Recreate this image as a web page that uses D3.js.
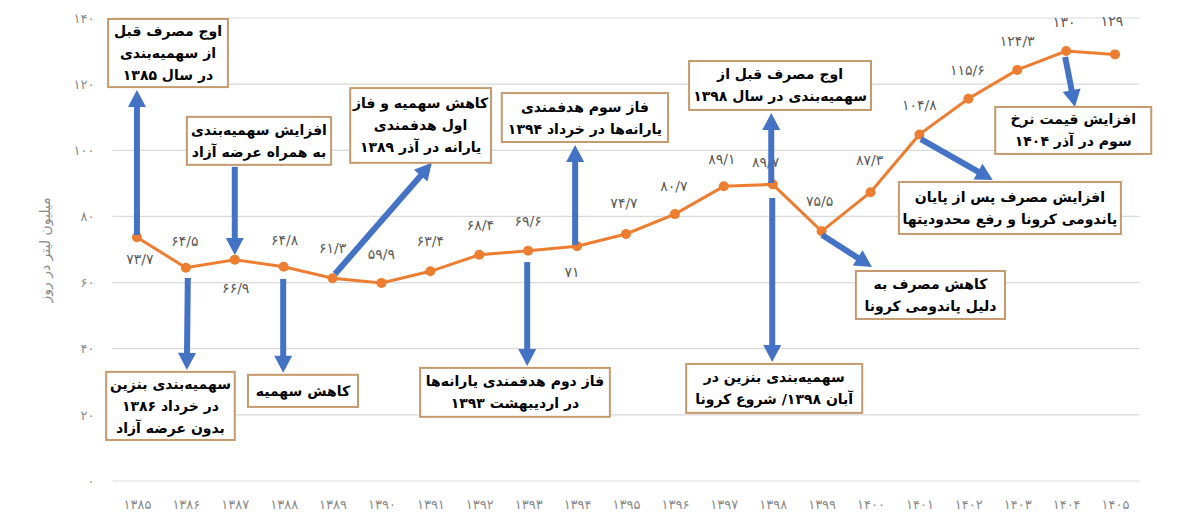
<!DOCTYPE html>
<html>
<head>
<meta charset="utf-8">
<script src="https://cdn.jsdelivr.net/npm/d3@7"></script>
<style>
  body { margin: 0; background: #fff; }
  svg { display: block; }
  .note {
    box-sizing: border-box;
    width: 100%;
    height: 100%;
    display: flex;
    align-items: center;
    justify-content: center;
    text-align: center;
    direction: rtl;
    font-family: 'DejaVu Sans', sans-serif;
    font-weight: bold;
    font-size: 14px;
    line-height: 22px;
    color: #000;
    white-space: nowrap;
  }
</style>
</head>
<body>
<div id="chart"></div>
<script>
// Years (solar hijri) and daily gasoline consumption, million litres per day
const years = [1385, 1386, 1387, 1388, 1389, 1390, 1391, 1392, 1393, 1394, 1395,
               1396, 1397, 1398, 1399, 1400, 1401, 1402, 1403, 1404, 1405];
const consumption = [73.7, 64.5, 66.9, 64.8, 61.3, 59.9, 63.4, 68.4, 69.6, 71, 74.7,
                     80.7, 89.1, 89.7, 75.5, 87.3, 104.8, 115.6, 124.3, 130, 129];
const yTicks = [0, 20, 40, 60, 80, 100, 120, 140];
const yTitle = "میلیون لیتر در روز";

// Event notes (text lines)
const noteTexts = [
    ["اوج مصرف قبل", "از سهمیه‌بندی", "در سال ۱۳۸۵"],
    ["افزایش سهمیه‌بندی", "به همراه عرضه آزاد"],
    ["کاهش سهمیه و فاز", "اول هدفمندی", "یارانه در آذر ۱۳۸۹"],
    ["فاز سوم هدفمندی", "یارانه‌ها در خرداد ۱۳۹۴"],
    ["اوج مصرف قبل از", "سهمیه‌بندی در سال ۱۳۹۸"],
    ["افزایش قیمت نرخ", "سوم در آذر ۱۴۰۴"],
    ["افزایش مصرف پس از پایان", "پاندومی کرونا و رفع محدودیتها"],
    ["کاهش مصرف به", "دلیل پاندومی کرونا"],
    ["سهمیه‌بندی بنزین", "در خرداد ۱۳۸۶", "بدون عرضه آزاد"],
    ["کاهش سهمیه"],
    ["فاز دوم هدفمندی یارانه‌ها", "در اردیبهشت ۱۳۹۳"],
    ["سهمیه‌بندی بنزین در", "آبان ۱۳۹۸/ شروع کرونا"]
];

// Layout of the notes in chart units: [year left, year right, value top, value bottom]
const noteBoxes = [
    [1384.41, 1386.86, 139.7, 119.1],
    [1386.02, 1388.97, 110.1, 95.6],
    [1389.36, 1392.24, 118.8, 96.2],
    [1392.46, 1395.86, 117.3, 102.5],
    [1396.29, 1400.01, 127.0, 112.2],
    [1402.55, 1405.74, 113.1, 98.9],
    [1400.58, 1405.12, 90.4, 74.7],
    [1399.70, 1402.75, 63.5, 49.0],
    [1384.37, 1387.00, 33.0, 12.4],
    [1387.27, 1389.52, 32.1, 22.4],
    [1390.79, 1394.67, 34.2, 19.4],
    [1396.23, 1399.83, 35.4, 20.6]
];

// Arrows in chart units: [year from, value from, year to, value to]
const arrows = [
    [1385.00, 74.4, 1385.00, 118.2],
    [1387.00, 95.0, 1387.00, 68.3],
    [1389.05, 62.6, 1391.03, 96.2],
    [1393.96, 71.4, 1393.96, 101.6],
    [1397.97, 90.1, 1397.97, 111.3],
    [1397.99, 85.6, 1397.99, 36.0],
    [1403.98, 128.2, 1404.18, 113.1],
    [1401.03, 103.4, 1402.50, 91.0],
    [1399.01, 74.4, 1400.03, 64.7],
    [1386.04, 61.4, 1386.02, 33.6],
    [1387.99, 61.1, 1387.99, 32.7],
    [1392.98, 66.2, 1392.98, 34.8]
];

// Value label offsets from each point (px)
const labelOffsets = [
    [3, 22], [-1, -27], [1, 28], [1, -27], [0, -30], [0, -29], [0, -30],
    [1, -30], [0, -30], [-5, 26], [-2, -31], [-1, -28], [-2, -27], [-7, -22],
    [-2, -30], [-1, -32], [0, -29], [-1, -29], [0, -29], [-2, -29], [-3, -33]
];

const W = 1185, H = 531;
const margin = { top: 18, right: 45.5, bottom: 50, left: 112.5 };
const width = W - margin.left - margin.right;
const height = H - margin.top - margin.bottom;

const font = "'DejaVu Sans', sans-serif";
const colorLine = "#ED7D31";
const colorArrow = "#4472C4";
const colorBorder = "#C59A6D";
const colorGrid = "#D9D9D9";

function toPersian(n) {
    // Persian digits with "/" as decimal separator
    const digits = "۰۱۲۳۴۵۶۷۸۹";
    return String(n).replace(".", "/").replace(/[0-9]/g, d => digits[+d]);
}

const svg = d3.select("#chart").append("svg")
    .attr("width", W)
    .attr("height", H)
    .append("g")
    .attr("transform", `translate(${margin.left},${margin.top})`);

const x = d3.scalePoint()
    .domain(years)
    .range([0, width])
    .padding(0.5);
// Continuous version of x for placing notes between years
const xc = d3.scaleLinear()
    .domain([years[0], years[years.length - 1]])
    .range([x(years[0]), x(years[years.length - 1])]);

const y = d3.scaleLinear()
    .domain([0, 140])
    .range([height, 0]);

// Gridlines
svg.append("g")
    .selectAll("line")
    .data(yTicks)
    .enter()
    .append("line")
    .attr("x1", 0)
    .attr("x2", width)
    .attr("y1", d => y(d))
    .attr("y2", d => y(d))
    .attr("stroke", colorGrid)
    .attr("stroke-width", 1.2);

// Y axis
const yAxis = svg.append("g")
    .call(d3.axisLeft(y).tickValues(yTicks).tickSize(0).tickPadding(18).tickFormat(toPersian));
yAxis.select(".domain").remove();
yAxis.selectAll("text")
    .attr("font-family", font)
    .style("font-size", "13px")
    .attr("fill", "#8a8a8a");

// X axis
const xAxis = svg.append("g")
    .attr("transform", `translate(0,${height})`)
    .call(d3.axisBottom(x).tickSize(0).tickPadding(19).tickFormat(toPersian));
xAxis.select(".domain").remove();
xAxis.selectAll("text")
    .attr("font-family", font)
    .style("font-size", "13px")
    .attr("fill", "#8a8a8a");

// Y title
svg.append("text")
    .attr("font-family", font)
    .style("font-size", "14px")
    .attr("fill", "#8a8a8a")
    .attr("text-anchor", "middle")
    .attr("transform", "rotate(-90)")
    .attr("x", -(250 - margin.top))
    .attr("y", 45 - margin.left)
    .attr("dy", "0.35em")
    .text(yTitle);

// Line and markers
const points = years.map((yr, i) => ({ year: yr, value: consumption[i] }));

svg.append("path")
    .datum(points)
    .attr("fill", "none")
    .attr("stroke", colorLine)
    .attr("stroke-width", 3)
    .attr("d", d3.line()
        .x(d => x(d.year))
        .y(d => y(d.value)));

svg.append("g")
    .selectAll("circle")
    .data(points)
    .enter()
    .append("circle")
    .attr("cx", d => x(d.year))
    .attr("cy", d => y(d.value))
    .attr("r", 5)
    .attr("fill", colorLine);

// Value labels
svg.append("g")
    .selectAll("text")
    .data(points)
    .enter()
    .append("text")
    .attr("font-family", font)
    .style("font-size", "14px")
    .attr("fill", "#595959")
    .attr("text-anchor", "middle")
    .attr("x", (d, i) => x(d.year) + labelOffsets[i][0])
    .attr("y", (d, i) => y(d.value) + labelOffsets[i][1])
    .attr("dy", "0.35em")
    .text(d => toPersian(d.value));

// Arrows
function drawArrow(a) {
    const x1 = xc(a[0]), y1 = y(a[1]), x2 = xc(a[2]), y2 = y(a[3]);
    const len = Math.hypot(x2 - x1, y2 - y1);
    const ux = (x2 - x1) / len, uy = (y2 - y1) / len;
    const headLen = 17, headHalf = 9;
    const bx = x2 - ux * headLen, by = y2 - uy * headLen;

    svg.append("line")
        .attr("x1", x1)
        .attr("y1", y1)
        .attr("x2", bx + ux * 2)
        .attr("y2", by + uy * 2)
        .attr("stroke", colorArrow)
        .attr("stroke-width", 6);

    svg.append("polygon")
        .attr("points", `${x2},${y2} ${bx - uy * headHalf},${by + ux * headHalf} ${bx + uy * headHalf},${by - ux * headHalf}`)
        .attr("fill", colorArrow);
}
arrows.forEach(drawArrow);

// Note boxes (HTML inside foreignObject so the RTL lines centre properly)
noteBoxes.forEach((b, i) => {
    const x0 = xc(b[0]), x1 = xc(b[1]), y0 = y(b[2]), y1 = y(b[3]);
    const g = svg.append("g");
    g.append("rect")
        .attr("x", x0)
        .attr("y", y0)
        .attr("width", x1 - x0)
        .attr("height", y1 - y0)
        .attr("fill", "#fff")
        .attr("stroke", colorBorder)
        .attr("stroke-width", 2);

    const div = g.append("foreignObject")
        .attr("x", x0 - 10)
        .attr("y", y0)
        .attr("width", x1 - x0 + 20)
        .attr("height", y1 - y0)
        .append("xhtml:div")
        .attr("class", "note")
        .append("xhtml:div");
    noteTexts[i].forEach((t, j) => {
        if (j > 0) div.append("xhtml:br");
        div.append("xhtml:span").text(t);
    });
});
</script>
</body>
</html>
